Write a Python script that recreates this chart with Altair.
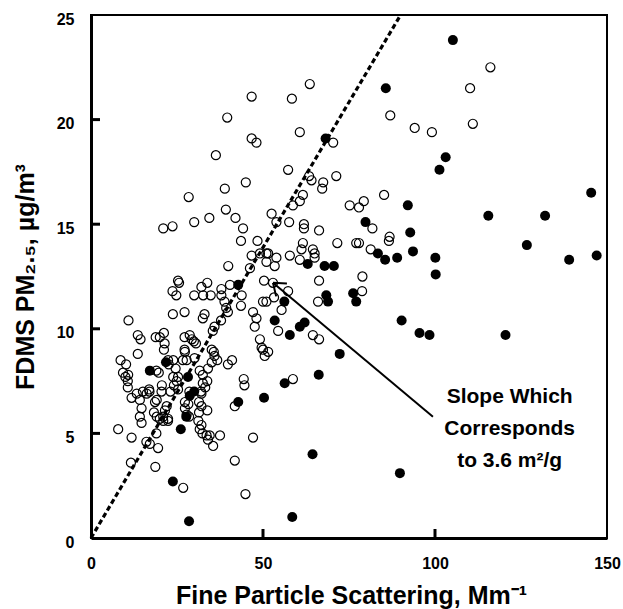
import altair as alt
import pandas as pd

# ---- data ----
open_x = [63.6, 46.7, 58.4, 39.6, 60.7, 46.7, 48.1, 36.3, 57.3, 63.4, 64.1, 45.0, 38.9, 61.6, 60.7, 58.7,
          28.4, 39.2, 42.0, 34.4, 30.0, 44.2, 21.0, 23.7, 52.5, 53.9, 57.6, 61.9, 61.9, 66.3, 43.6, 48.4,
          61.6, 61.2, 64.5, 65.0, 65.0, 46.7, 51.0, 53.9, 53.4, 57.8, 60.7, 39.9, 46.2, 50.3, 52.9, 25.3,
          25.6, 23.7, 24.8, 30.0, 32.1, 33.8, 32.6, 34.8, 37.9, 37.9, 40.4, 43.8, 50.0, 51.0, 57.3, 66.3,
          66.0,
          116.1, 110.2, 111.0, 87.0, 94.1, 99.1, 70.4, 71.3, 67.5, 67.2, 85.2, 75.2, 77.9, 79.3, 81.8,
          71.6, 77.1, 77.9, 81.3, 86.8, 86.6, 78.9, 78.8,
          38.8, 39.3, 39.8, 43.6, 23.8, 27.2, 32.5, 33.0, 37.8, 35.9, 35.4, 10.9, 13.6, 14.4, 18.8, 21.2,
          21.4, 21.2, 27.2, 28.7, 29.3, 29.9, 27.2, 13.6, 8.6, 10.2, 9.3, 10.0, 10.7, 10.7, 19.0, 19.7,
          22.6, 24.6, 26.7, 25.3, 24.1, 20.6, 30.1, 31.6, 32.5, 33.8, 34.0, 35.1, 35.9, 35.7, 35.1, 36.7,
          39.8, 41.0, 33.2, 32.5, 44.4, 44.6, 15.1, 17.0, 23.1, 25.3, 28.6, 32.0,
          20.0, 30.5, 22.4, 23.9, 27.3, 27.8, 20.5, 23.9, 24.9, 10.8, 32.1, 31.4, 32.1, 31.4, 27.3, 28.3,
          27.3, 22.0, 21.5, 21.0, 22.4, 14.7, 14.2, 14.7, 13.3, 11.8, 14.2, 16.9, 16.2, 18.6, 19.1, 18.3,
          19.1, 20.0, 21.0, 22.4, 27.8, 28.5, 31.2, 32.1, 31.6, 32.4, 33.6, 34.5, 34.0, 35.5, 37.5, 7.9,
          11.8, 16.1, 17.1, 19.5, 19.0, 11.6, 18.7, 26.8, 41.8, 44.9, 47.1, 41.8, 33.8, 47.1, 48.1, 47.6,
          49.1, 49.6, 50.0, 50.5, 51.5, 54.4, 58.7, 64.5, 66.3, 55.4, 53.2, 49.1, 51.5, 51.0]
open_y = [21.7, 21.1, 21.0, 20.1, 19.4, 19.1, 18.9, 18.3, 17.6, 17.3, 17.1, 17.0, 16.7, 16.4, 16.1, 15.9,
          16.3, 15.7, 15.3, 15.3, 15.1, 14.8, 14.8, 14.9, 15.5, 15.1, 15.1, 15.0, 14.8, 14.7, 14.2, 14.2,
          14.1, 13.8, 13.8, 13.6, 13.4, 13.5, 13.6, 13.4, 13.0, 13.5, 13.3, 13.0, 12.9, 12.3, 12.2, 12.3,
          12.2, 11.8, 11.6, 11.6, 12.0, 12.2, 11.6, 11.6, 11.9, 11.6, 12.1, 11.6, 11.3, 11.3, 11.8, 12.3,
          11.3,
          22.5, 21.5, 19.8, 20.2, 19.6, 19.4, 18.9, 17.3, 17.0, 16.7, 16.4, 15.9, 15.8, 16.1, 14.8,
          14.1, 14.1, 14.1, 13.8, 14.4, 14.2, 12.5, 11.8,
          11.3, 11.0, 10.8, 11.1, 10.7, 10.8, 10.5, 10.7, 10.4, 10.1, 9.9, 10.4, 9.7, 9.5, 9.6, 9.8,
          9.3, 9.0, 9.6, 9.7, 9.5, 9.4, 9.0, 8.8, 8.5, 8.3, 7.9, 7.7, 7.5, 7.2, 8.0, 7.9,
          8.3, 8.1, 8.5, 7.7, 7.3, 7.3, 8.6, 8.0, 7.8, 7.5, 8.1, 8.4, 8.7, 8.9, 9.0, 8.5,
          8.3, 8.5, 7.2, 7.4, 7.6, 7.3, 7.0, 7.0, 7.0, 7.1, 7.0, 7.0,
          9.6, 9.3, 8.5, 8.5, 8.9, 8.5, 7.0, 7.7, 7.5, 7.8, 6.9, 6.5, 6.3, 6.0, 6.5, 6.4,
          6.2, 6.3, 6.1, 5.8, 5.7, 6.2, 5.8, 5.5, 6.9, 6.7, 6.6, 7.1, 6.9, 6.5, 6.6, 6.0,
          5.8, 5.7, 5.6, 5.6, 5.9, 5.8, 5.6, 5.4, 5.2, 5.0, 4.9, 4.9, 4.7, 4.4, 4.9, 5.2,
          4.8, 4.6, 4.5, 4.3, 5.0, 3.6, 3.4, 2.4, 3.7, 2.1, 4.8, 6.3, 6.1, 10.8, 10.5, 10.1,
          9.5, 9.1, 9.0, 8.7, 8.9, 9.9, 7.6, 9.7, 9.5, 10.9, 11.5, 13.6, 13.6, 13.2]

filled_x = [105.2, 85.7, 68.2, 103.1, 101.3, 145.4, 92.1, 115.5, 132.0, 79.8, 92.8, 126.7, 93.6, 83.4,
            89.0, 85.5, 100.1, 139.0, 147.0, 63.0, 67.9, 70.6, 100.2, 42.8, 68.4, 68.9, 76.2, 77.1,
            56.2, 90.3, 53.4, 60.7, 62.1, 57.8, 95.5, 98.4, 120.5, 72.3, 66.2, 56.3, 64.4, 89.8,
            50.3, 42.8, 58.5, 17.1, 21.8, 28.2, 28.7, 30.0, 27.7, 26.1, 23.8, 28.5]
filled_y = [23.8, 21.5, 19.1, 18.2, 17.6, 16.5, 15.9, 15.4, 15.4, 15.1, 14.6, 14.0, 13.7, 13.6,
            13.4, 13.3, 13.4, 13.3, 13.5, 13.1, 13.0, 13.0, 12.6, 12.1, 11.6, 11.3, 11.7, 11.3,
            11.3, 10.4, 10.4, 10.1, 10.3, 9.7, 9.8, 9.7, 9.7, 8.8, 7.8, 7.4, 4.0, 3.1,
            6.7, 6.5, 1.0, 8.0, 8.4, 7.7, 6.8, 7.0, 5.8, 5.2, 2.7, 0.8]

slope_x = [0, 90]          # line for 3.6 m2/g
slope_y = [0, 25]
arrow_x = [99.4, 52.9]     # tail, tip
arrow_y = [5.8, 12.2]
note_x = [121.7]
note_y = [6.43]
note_lines = ["Slope Which", "Corresponds", "to 3.6 m\u00b2/g"]
x_ticks = [0, 50, 100, 150]
y_ticks = [0, 5, 10, 15, 20, 25]
x_inner_ticks = [50, 100]
y_inner_ticks = [5, 10, 15, 20]

W, H = 516, 523
FONT = "Liberation Sans"

xs = alt.Scale(domain=[0, 150], nice=False, zero=False)
ys = alt.Scale(domain=[0, 25], nice=False, zero=False)

open_df = pd.DataFrame({"x": open_x, "y": open_y})
filled_df = pd.DataFrame({"x": filled_x, "y": filled_y})
slope_df = pd.DataFrame({"x": slope_x, "y": slope_y})
arrow_df = pd.DataFrame({"x": arrow_x, "y": arrow_y})
tip_df = pd.DataFrame({"x": arrow_x[1:], "y": arrow_y[1:]})
note_df = pd.DataFrame({"x": note_x, "y": note_y, "t": [note_lines]})
xt_df = pd.DataFrame({"x": x_inner_ticks})
yt_df = pd.DataFrame({"y": y_inner_ticks})

x_axis = alt.Axis(values=x_ticks, ticks=False, grid=False, labelFlush=False,
                  labelFont=FONT, labelFontSize=16, labelFontWeight="bold", labelColor="black",
                  labelPadding=17, domainColor="black", domainWidth=3,
                  title="Fine Particle Scattering, Mm\u207b\u00b9", titleFont=FONT, titleFontSize=25,
                  titleFontWeight="bold", titleColor="black", titleBaseline="alphabetic",
                  titleX=W / 2 + 2, titleY=65)
y_axis = alt.Axis(values=y_ticks, ticks=False, grid=False, labelFlush=False,
                  labelFont=FONT, labelFontSize=16, labelFontWeight="bold", labelColor="black",
                  labelPadding=17, labelOffset=4, domainColor="black", domainWidth=3,
                  title="FDMS PM\u2082.\u2085, \u00b5g/m\u00b3", titleFont=FONT, titleFontSize=25,
                  titleFontWeight="bold", titleColor="black", titleBaseline="alphabetic",
                  titleAngle=-90, titleX=-58, titleY=H / 2, titleAlign="center")

X = alt.X("x:Q", scale=xs, axis=x_axis)
Y = alt.Y("y:Q", scale=ys, axis=y_axis)

filled = alt.Chart(filled_df).mark_point(shape="circle", filled=True, color="black", size=100, opacity=1).encode(
    x=X, y=Y)
opened = alt.Chart(open_df).mark_point(shape="circle", filled=False, color="black", size=82,
                                       strokeWidth=1.2, opacity=1).encode(x=X, y=Y)
slope = alt.Chart(slope_df).mark_line(color="black", strokeWidth=3.2, strokeDash=[5, 3]).encode(
    x=X, y=Y)
arrow = alt.Chart(arrow_df).mark_line(color="black", strokeWidth=2).encode(x=X, y=Y)
head = alt.Chart(tip_df).mark_point(shape="M0,0L1,-0.75M0,0L1,0.75", filled=False, color="black",
                                    size=500, strokeWidth=2, angle=40, opacity=1).encode(x=X, y=Y)
note = alt.Chart(note_df).mark_text(font=FONT, fontSize=21, fontWeight="bold", color="black",
                                    align="center", baseline="alphabetic", lineHeight=32).encode(
    x=X, y=Y, text="t")
xticks = alt.Chart(xt_df).mark_rule(color="black", strokeWidth=3).encode(
    x=X, y=alt.value(H - 9), y2=alt.value(H))
yticks = alt.Chart(yt_df).mark_rule(color="black", strokeWidth=3).encode(
    y=Y, x=alt.value(0), x2=alt.value(9))

chart = alt.layer(filled, opened, slope, arrow, head, note, xticks, yticks).properties(
    width=W, height=H,
    autosize=alt.AutoSizeParams(type="none"),
    padding={"left": 91, "top": 15, "right": 16, "bottom": 71},
    background="white",
).configure_view(stroke="black", strokeWidth=2)

chart.save("out.html", embed_options={"renderer": "svg", "actions": False})
